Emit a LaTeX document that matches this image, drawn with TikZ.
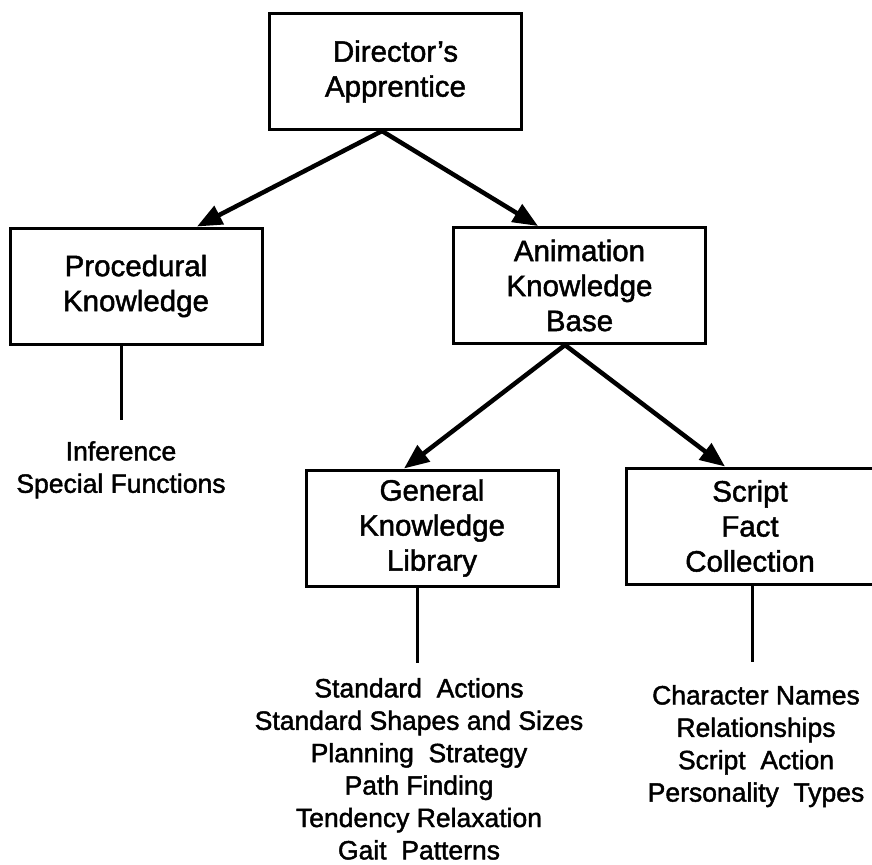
\documentclass[tikz,border=0pt]{standalone}
\usepackage{fontspec}
\setmainfont{Liberation Sans}[FakeBold=1.6]
\usetikzlibrary{arrows.meta}
\begin{document}
\begin{tikzpicture}[x=1pt,y=1pt,
  box/.style={draw, line width=3pt, minimum width=252pt, minimum height=116pt,
    inner sep=0pt, align=center, font=\fontsize{29.5}{35}\selectfont},
  listtext/.style={inner sep=0pt, anchor=north, align=center,
    font=\fontsize{26.5}{32.4}\selectfont},
  arr/.style={line width=4.5pt, -{Triangle[length=25pt,width=20pt]}},
  stem/.style={line width=3pt}]
\useasboundingbox (0,0) rectangle (872,-864);

% boxes
\node[box] (dir)  at (395.5,-71.5)  {Director's\\Apprentice};
\node[box] (proc) at (136,-286)     {Procedural\\Knowledge};
\node[box] (anim) at (579.5,-285.5) {Animation\\Knowledge\\Base};
\node[box] (gen)  at (432,-528)     {General\\Knowledge\\Library};
\node[box, minimum width=248pt] (scr) at (750,-526) {Script\\Fact\\Collection};

% lists of contents
\node[listtext] (inf) at (121,-441) {Inference\\Special Functions};
\node[listtext] (genlist) at (419,-678)
  {Standard\ \ Actions\\Standard Shapes and Sizes\\Planning\ \ Strategy\\Path Finding\\Tendency Relaxation\\Gait\ \ Patterns};
\node[listtext] (scrlist) at (756,-685)
  {Character Names\\Relationships\\Script\ \ Action\\Personality\ \ Types};

% arrow end points
\coordinate (dapex) at (382,-130);
\coordinate (ptip)  at (197,-229);
\coordinate (atip)  at (538,-228);
\coordinate (aapex) at (565,-343);
\coordinate (gtip)  at (404,-469);
\coordinate (stip)  at (725,-468);

\draw[arr] (dir.south -| dapex) -- (proc.north -| ptip);
\draw[arr] (dir.south -| dapex) -- (anim.north -| atip);
\draw[arr] (anim.south -| aapex) -- (gen.north -| gtip);
\draw[arr] (anim.south -| aapex) -- (scr.north -| stip);

% stems down to the lists
\coordinate (pend) at (121,-420);
\coordinate (gend) at (417,-663);
\coordinate (send) at (752,-662);
\draw[stem] (proc.south -| pend) -- (pend);
\draw[stem] (gen.south -| gend) -- (gend);
\draw[stem] (scr.south -| send) -- (send);
\end{tikzpicture}
\end{document}
